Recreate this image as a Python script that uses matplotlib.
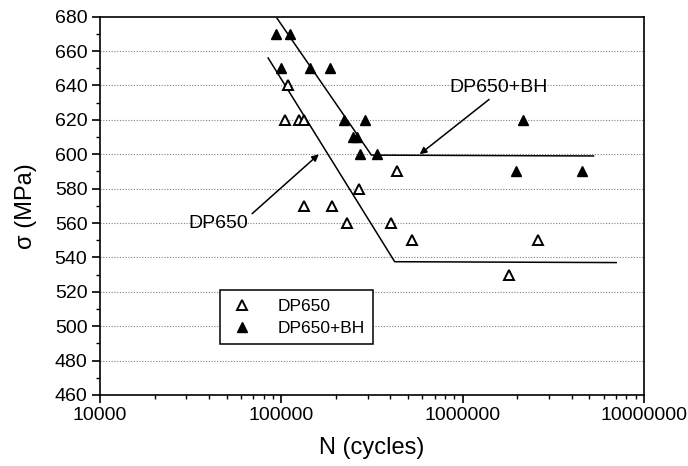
import numpy as np
import matplotlib
matplotlib.use("Agg")
import matplotlib.pyplot as plt
from matplotlib.ticker import FixedLocator, NullFormatter

plt.rcParams['font.family'] = ['Liberation Sans', 'DejaVu Sans']

# DP650 (open triangles)
dp_n = [104500, 109000, 125000, 133000, 133000, 191000, 230000, 267000,
        404000, 434000, 526000, 1810000, 2620000]
dp_s = [620, 640, 620, 620, 570, 570, 560, 580, 560, 590, 550, 530, 550]

# DP650+BH (filled triangles)
bh_n = [93000, 111000, 99000, 143500, 186600, 222000, 291000, 250000,
        260000, 273000, 335000, 2140000, 1970000, 4540000]
bh_s = [670, 670, 650, 650, 650, 620, 620, 610, 610, 600, 600, 620, 590, 590]

# fitted lines (knee + endurance level)
dp_line_n = [84600, 422000, 7030000]
dp_line_s = [656, 537.5, 537]
bh_line_n = [94800, 314000, 5270000]
bh_line_s = [679, 599.5, 599]

fig = plt.figure(figsize=(6.88, 4.66), dpi=100)
ax = fig.add_axes([0.1453, 0.1524, 0.7907, 0.8118])

ax.plot(dp_line_n, dp_line_s, color="black", lw=1.1)
ax.plot(bh_line_n, bh_line_s, color="black", lw=1.1)

ax.plot(dp_n, dp_s, ls="none", marker="^", ms=7.5, mfc="white", mec="black",
        mew=1.4, label="DP650")
ax.plot(bh_n, bh_s, ls="none", marker="^", ms=7.5, mfc="black", mec="black",
        label="DP650+BH")

ax.set_xscale("log")
ax.set_xlim(1e4, 1e7)
ax.set_ylim(460, 680)
ax.set_xticks([1e4, 1e5, 1e6, 1e7])
ax.set_xticklabels(["10000", "100000", "1000000", "10000000"])
ax.xaxis.set_minor_formatter(NullFormatter())
ax.set_yticks(np.arange(460, 681, 20))
ax.yaxis.set_minor_locator(FixedLocator(np.arange(470, 680, 20)))

ax.tick_params(axis="both", which="major", direction="out", length=6,
               width=1.2, labelsize=14, pad=3)
ax.tick_params(axis="both", which="minor", direction="out", length=3,
               width=1.0)
for sp in ax.spines.values():
    sp.set_linewidth(1.2)

for yv in np.arange(480, 680, 20):
    ax.axhline(yv, color="gray", ls=(0, (1, 1.5)), lw=0.8, zorder=0)

ax.set_xlabel("N (cycles)", fontsize=17)
ax.set_ylabel("\u03c3 (MPa)", fontsize=17)
ax.xaxis.set_label_coords(0.5, -0.112)
ax.yaxis.set_label_coords(-0.116, 0.5)

ax.annotate("DP650+BH", xy=(580000, 600), xytext=(1580000, 634),
            fontsize=14, ha="center", va="bottom",
            arrowprops=dict(arrowstyle="-|>", color="black", lw=1.1,
                            shrinkA=1, shrinkB=0, mutation_scale=10,
                            relpos=(0.45, 0)))
ax.annotate("DP650", xy=(161000, 600), xytext=(45000, 560),
            fontsize=14, ha="center", va="center",
            arrowprops=dict(arrowstyle="-|>", color="black", lw=1.1,
                            shrinkA=1, shrinkB=0, mutation_scale=10,
                            relpos=(1.0, 0.85)))

leg = ax.legend(loc="upper left", bbox_to_anchor=(0.2206, 0.278),
                borderaxespad=0,
                fontsize=12.5, frameon=True, fancybox=False, edgecolor="black",
                framealpha=1, handletextpad=1.3, borderpad=0.5,
                labelspacing=0.4, handlelength=1.5)
leg.get_frame().set_linewidth(1.1)

fig.savefig("out.png", dpi=100)
